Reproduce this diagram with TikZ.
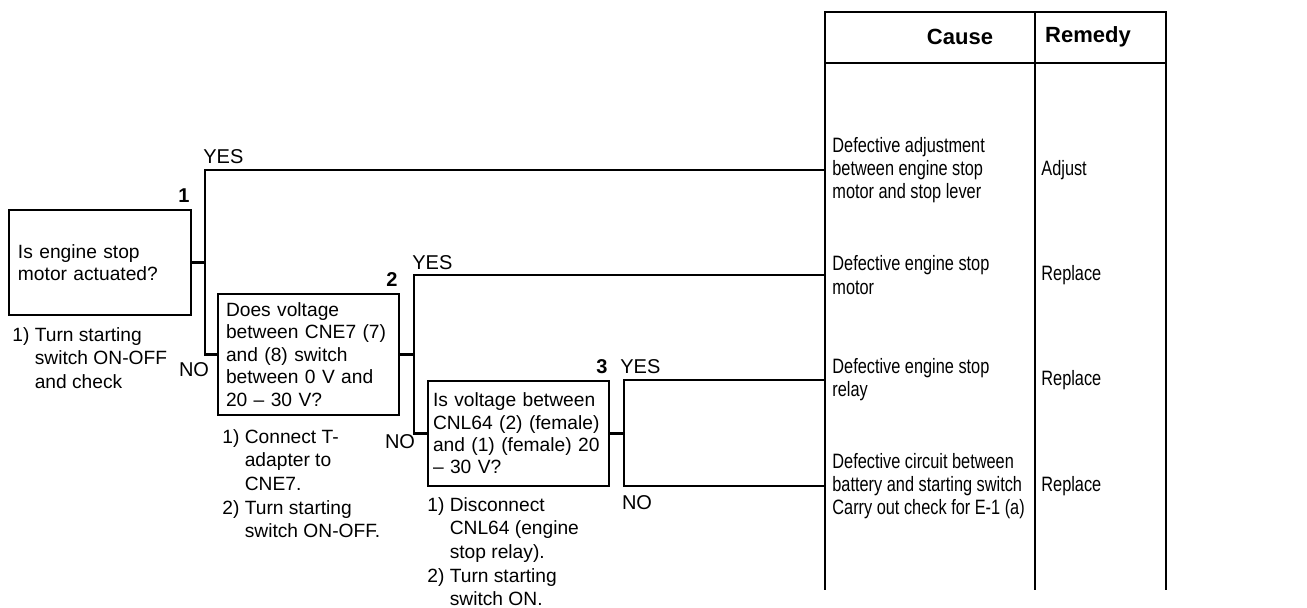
\documentclass[tikz,border=0pt]{standalone}
\usepackage{fontspec}
\setmainfont{Liberation Sans}
\newfontfamily\narrowfont[FakeStretch=0.785]{Liberation Sans}
\usetikzlibrary{positioning}

\begin{document}
\begin{tikzpicture}[
    x=0.5pt, y=-0.5pt,
    font=\fontsize{9.6}{11.2}\selectfont,
    qbox/.style={
        rectangle, draw=black, line width=1pt, anchor=north west,
        inner xsep=2.5pt, inner ysep=0pt, align=left
    },
    notetext/.style={
        inner sep=0pt, align=left,
        font=\fontsize{9.6}{11.8}\selectfont
    },
    causetext/.style={
        inner sep=0pt, align=left, anchor=west,
        font=\narrowfont\fontsize{10.4}{11.6}\selectfont
    },
    remtext/.style={
        inner sep=0pt, anchor=west,
        font=\narrowfont\fontsize{10.4}{11.6}\selectfont
    },
    headtext/.style={inner sep=0pt, font=\bfseries\fontsize{11}{13}\selectfont},
    flagtext/.style={inner sep=0pt, font=\fontsize{10}{12}\selectfont},
    numtext/.style={inner sep=0pt, font=\bfseries\fontsize{10}{12}\selectfont},
    linkstyle/.style={line width=1.1pt},
    tablerule/.style={line width=0.8pt},
]
\useasboundingbox (0,0) rectangle (1307,608);

% ---- Table ----
\coordinate (tabNW) at (825,12);
\coordinate (tabNM) at (1035,12);
\coordinate (tabNE) at (1166,12);
\coordinate (tabSW) at (825,590);
\coordinate (tabSM) at (1035,590);
\coordinate (tabSE) at (1166,590);
\draw[tablerule] (tabSW) -- (tabNW) -- (tabNE) -- (tabSE);
\draw[tablerule] (tabNM) -- (tabSM);
\draw[tablerule] (825,63) -- (1166,63);

\node[headtext] (headcause) at (960,37) {Cause};
\node[headtext] (headrem) at (1088,37) {Remedy};

% ---- Causes and remedies ----
\foreach \i/\yy/\cause/\rem in {
    1/170/{Defective adjustment\\between engine stop\\motor and stop lever}/Adjust,
    2/275/{Defective engine stop\\motor}/Replace,
    3/380/{Defective engine stop\\relay}/Replace,
    4/486/{Defective circuit between\\battery and starting switch\\Carry out check for E-1 (a)}/Replace} {
    \node[causetext] (cause\i) at (832,\yy) {\cause};
    \node[remtext] (rem\i) at (1041,\yy) {\rem};
}

% ---- Check boxes ----
\node[qbox, inner xsep=4.5pt, text width=82pt, minimum width=91pt, minimum height=52.5pt]
    (q1) at (8,209) {Is engine stop\\motor actuated?};
\node[qbox, inner xsep=4pt, text width=82.5pt, minimum width=90.5pt, minimum height=60.5pt]
    (q2) at (217,293) {Does voltage\\between CNE7 (7)\\and (8) switch\\between 0 V and\\20 -- 30 V?};
\node[qbox, text width=85.5pt, minimum width=90.5pt, minimum height=52.5pt]
    (q3) at (427,380) {Is voltage between\\CNL64 (2) (female)\\and (1) (female) 20\\-- 30 V?};

\foreach \i in {1,2,3} {
    \node[numtext, above left=3pt and 1pt of q\i.north east] (num\i) {\i};
}

% ---- Check notes ----
\node[notetext, below=5.5pt of q1.south west, anchor=north west, xshift=2pt] (note1)
    {1) Turn starting\\\hphantom{1) }switch ON-OFF\\\hphantom{1) }and check};
\node[notetext, below=6.5pt of q2.south west, anchor=north west, xshift=2.5pt] (note2)
    {1) Connect T-\\\hphantom{1) }adapter to\\\hphantom{1) }CNE7.\\2) Turn starting\\\hphantom{2) }switch ON-OFF.};
\node[notetext, below=5pt of q3.south west, anchor=north west] (note3)
    {1) Disconnect\\\hphantom{1) }CNL64 (engine\\\hphantom{1) }stop relay).\\2) Turn starting\\\hphantom{2) }switch ON.};

% ---- Branches ----
\coordinate[right=6.5pt of q1.east] (fork1);
\coordinate[right=7pt of q2.east] (fork2);
\coordinate[right=7pt of q3.east] (fork3);

\draw[linkstyle] (q1.east) -- (fork1) |- (cause1.west -| tabNW);
\draw[linkstyle] (fork1) |- (q2.west);
\draw[linkstyle] (q2.east) -- (fork2) |- (cause2.west -| tabNW);
\draw[linkstyle] (fork2) |- (q3.west);
\draw[linkstyle] (q3.east) -- (fork3) |- (cause3.west -| tabNW);
\draw[linkstyle] (fork3) |- (cause4.west -| tabNW);

% ---- YES / NO flags ----
\node[flagtext, anchor=west] (yes1) at (203,157) {YES};
\node[flagtext, anchor=west] (yes2) at (412,263) {YES};
\node[flagtext, anchor=west] (yes3) at (620,367) {YES};
\node[flagtext] (no1) at (194,370) {NO};
\node[flagtext] (no2) at (400,442) {NO};
\node[flagtext] (no3) at (637,503) {NO};

\end{tikzpicture}
\end{document}
